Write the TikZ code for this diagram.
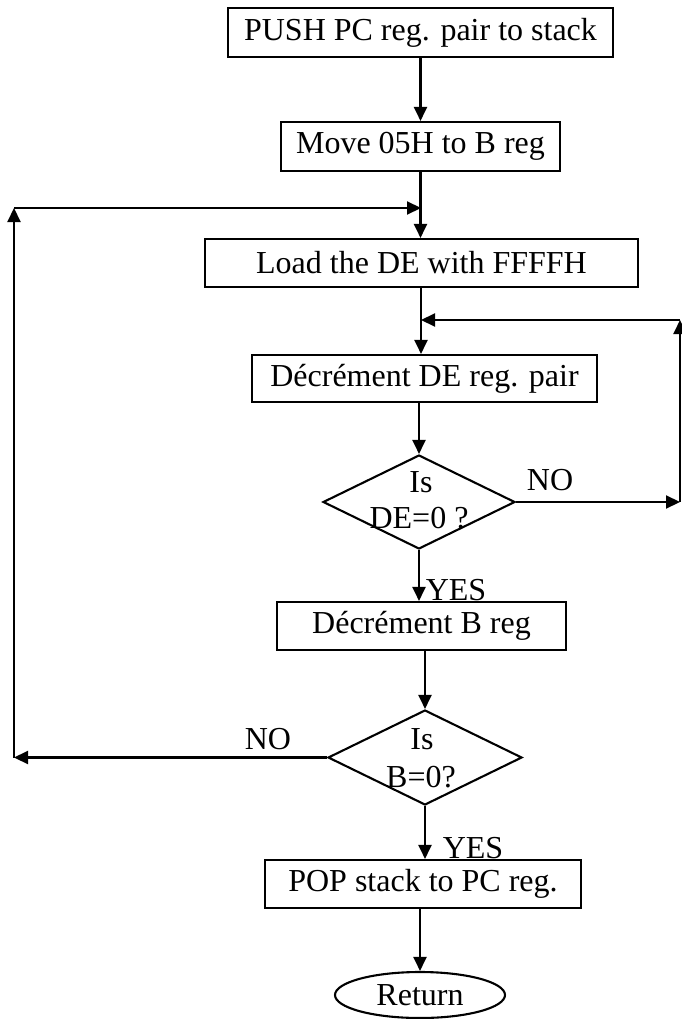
\documentclass[tikz,border=0pt]{standalone}
\usepackage{fontspec}
\setmainfont{Liberation Serif}
\usetikzlibrary{arrows.meta,shapes.geometric}
\begin{document}
\begin{tikzpicture}[x=1pt,y=-1pt,
  every node/.style={font=\fontsize{32}{38}\selectfont, inner sep=0pt},
  stepbox/.style={draw, rectangle, line width=2.1pt, minimum height=48pt},
  decision/.style={draw, diamond, line width=2.1pt},
  terminal/.style={draw, ellipse, line width=2.1pt, minimum width=170pt, minimum height=46pt},
  flow/.style={line width=2.1pt, -{Triangle[length=14pt,width=13pt]}}]
\useasboundingbox (0,0) rectangle (682,1019);

% process steps
\node[stepbox, minimum width=385pt, minimum height=49pt] (push) at (420.5,32.5) {PUSH PC reg. pair to stack};
\node[stepbox, minimum width=279pt, minimum height=49pt] (movb) at (420.5,146.5) {Move 05H to B reg};
\node[stepbox, minimum width=433pt] (ldde) at (421.5,263) {Load the DE with FFFFH};
\node[stepbox, minimum width=345pt, minimum height=47pt] (dcxd) at (424.5,378.5) {Décrément DE reg. pair};
\node[decision, minimum width=192pt, minimum height=94pt] (dez) at (419,502) {};
\node[stepbox, minimum width=289pt] (dcrb) at (421.5,626) {Décrément B reg};
\node[decision, minimum width=194pt, minimum height=95pt] (bz) at (425,757.5) {};
\node[stepbox, minimum width=316pt] (pop) at (423,884) {POP stack to PC reg.};
\node[terminal] (ret) at (420,995) {Return};

% decision texts
\node[anchor=base] (dez1) at (421,492) {Is};
\node[anchor=base] (dez2) at (419,528) {DE=0 ?};
\node[anchor=base] (bz1) at (422,749) {Is};
\node[anchor=base] (bz2) at (421,787) {B=0?};

% branch labels
\node[anchor=base] (no1) at (550,490) {NO};
\node[anchor=base] (yes1) at (456,600) {YES};
\node[anchor=base] (no2) at (268,749) {NO};
\node[anchor=base] (yes2) at (473,858) {YES};

% loop corner points
\coordinate (lpjoin) at (421,208);
\coordinate (lpleft) at (14,757.5);
\coordinate (lptop) at (14,208);
\coordinate (rpjoin) at (421,320);
\coordinate (rpright) at (680,502);
\coordinate (rptop) at (680,320);

% main flow
\draw[flow] (push.south -| movb.north) -- (movb.north);
\draw[flow] (movb.south) -- (ldde.north -| movb.south);
\draw[flow] (ldde.south -| rpjoin) -- (dcxd.north -| rpjoin);
\draw[flow] (dcxd.south -| dez.north) -- (dez.north);
\draw[flow] (dez.south) -- (dcrb.north -| dez.south);
\draw[flow] (dcrb.south -| bz.north) -- (bz.north);
\draw[flow] (bz.south) -- (pop.north -| bz.south);
\draw[flow] (pop.south -| ret.north) -- (ret.north);

% inner delay loop (DE)
\draw[flow] (dez.east) -- (rpright);
\draw[flow] (rpright) -- (rptop);
\draw[flow] (rptop) -- (rpjoin);

% outer loop (B)
\draw[flow] (bz.west) -- (lpleft);
\draw[flow] (lpleft) -- (lptop);
\draw[flow] (lptop) -- (lpjoin);
\end{tikzpicture}
\end{document}
